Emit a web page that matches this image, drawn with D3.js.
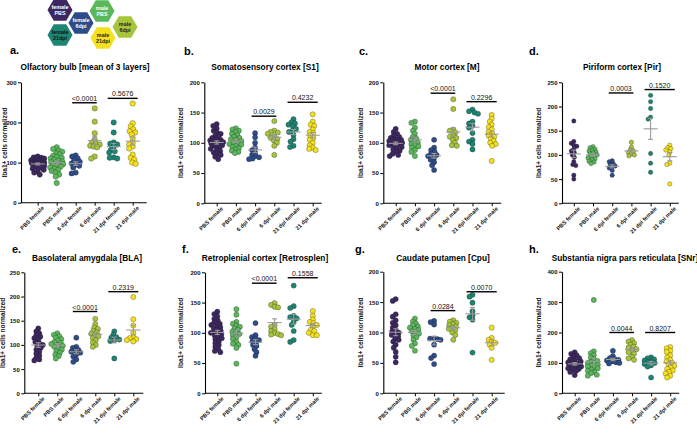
<!DOCTYPE html>
<html><head><meta charset="utf-8">
<script src="https://cdn.jsdelivr.net/npm/d3@7"></script>
<style>body{margin:0;background:#fff} svg{display:block;font-family:"Liberation Sans",Arial,sans-serif}</style>
</head><body><svg id="c" width="697" height="433"></svg>
<script>
// ---------------- DATA ----------------
const categories = ["PBS female","PBS male","6 dpi female","6 dpi male","21 dpi female","21 dpi male"];
const groupColors = ["#3d2761","#5ab85b","#2e4c8a","#a6c53c","#1c8673","#f4e01c"];
const panelLetters = ["a.","b.","c.","d.","e.","f.","g.","h."];
const panelTitles = ["Olfactory bulb [mean of 3 layers]","Somatosensory cortex [S1]","Motor cortex [M]","Piriform cortex [Pir]",
  "Basolateral amygdala [BLA]","Retroplenial cortex [Retrosplen]","Caudate putamen [Cpu]","Substantia nigra pars reticulata [SNr]"];
const yMax = [300,200,200,250,250,200,200,400];
const yStep = [100,50,50,50,50,50,50,100];
const pLabels = [["<0.0001","0.5676"],["0.0029","0.4232"],["<0.0001","0.2296"],["0.0003","0.1520"],
  ["<0.0001","0.2319"],["<0.0001","0.1558"],["0.0284","0.0070"],["0.0044","0.8207"]];
const pBarValue = [[249,260],[144,167],[182,168],[228,235],[169,210],[182,191],[136,167],[200,200]];
const yLabel = "Iba1+ cells normalized";

const olfactoryBulb = [
  [115,113,112,110,108,106,105,104,102,100,100,99,98,97,96,95,94,92,90,88,85,82,78,75,70],
  [138,134,130,127,123,120,117,114,112,110,107,105,103,101,100,98,96,94,92,90,88,85,82,79,75,70,65,49],
  [118,115,110,105,102,98,95,92,88,75,73],
  [235,202,173,157,150,147,145,142,140,138,115,110],
  [200,175,150,147,145,140,133,128,125,113,112,110],
  [247,198,190,183,178,175,170,160,150,145,140,135,120,112,108,100,97]
];
const somatosensory = [
  [131,128,124,120,117,115,112,110,108,106,105,104,103,102,101,100,99,98,97,96,95,94,92,90,88,86,84,82,80,77,73],
  [124,122,120,118,115,113,110,108,106,105,103,101,100,98,97,95,93,91,89,87,85,83],
  [116,109,100,92,88,84,80,78,76,74,73],
  [136,120,118,117,115,110,108,106,104,100,95,80],
  [139,134,132,130,127,123,120,118,113,106,102,95,93],
  [147,135,130,128,122,118,116,112,108,105,100,96,92,90,88]
];
const motorCortex = [
  [123,118,115,112,110,108,106,105,104,103,102,101,100,99,98,97,96,95,93,91,89,87,85,82,80,78],
  [135,133,125,120,115,110,107,105,102,100,98,96,94,92,88,85,78],
  [105,92,88,85,82,80,78,75,72,68,63,55],
  [172,156,122,120,117,112,110,108,105,100,96,95],
  [155,152,150,148,135,132,128,125,116,105,102,98,89],
  [146,140,135,130,126,122,118,115,112,110,107,103,100,98,95,70]
];
const piriform = [
  [170,128,124,120,118,112,108,105,100,95,86,80,78,58,50],
  [117,115,112,110,108,106,104,102,100,98,96,94,92,90,87,85,82],
  [88,86,82,80,77,75,73,68,58],
  [126,116,110,108,105,102,100,98],
  [223,210,196,178,174,103,83,64],
  [120,115,113,110,106,100,83,80,40]
];
const amygdala = [
  [134,128,124,120,117,114,110,106,103,100,97,94,90,86,82,78,74,70,68],
  [124,121,118,115,112,109,106,104,102,100,98,96,93,90,87,84,80,77,72],
  [115,96,94,90,88,86,84,80,76,70,65],
  [154,143,136,133,129,126,123,120,118,114,110,105,100,96],
  [128,121,116,115,111,110,108,72],
  [199,153,140,125,116,114,112,110,107]
];
const retrosplenial = [
  [135,131,127,123,120,117,115,113,111,109,107,105,103,101,100,99,97,95,93,91,89,86,83,80,77,73,70,68],
  [139,130,118,115,112,110,107,105,102,100,98,96,93,90,85,82,80,75,49],
  [116,96,93,90,88,86,84,80,78,73,68,62],
  [149,146,143,142,113,110,106,103,100,98,97,96],
  [178,144,141,128,126,124,118,113,103,88,85],
  [136,128,122,118,116,113,110,105,103,100,96,96]
];
const caudate = [
  [155,152,130,126,120,116,112,108,104,102,100,98,96,94,90,88,85,80,75,68,60,51],
  [123,118,115,112,110,108,106,104,102,100,98,95,92,88,82,78,70],
  [119,117,113,90,90,89,88,80,62,58,48],
  [120,118,116,114,112,110,108,106,104,100,96,88],
  [162,159,149,135,128,125,121,67],
  [108,91,88,85,83,80,75,55]
];
const substantiaNigra = [
  [135,130,125,120,116,112,108,105,102,100,98,96,94,92,90,88,86,84,82,80,77,74,70,60],
  [307,138,132,125,118,112,107,103,100,97,94,91,88,85,82,78,74,70,66,61,58],
  [140,122,116,112,110,108,105,102,100,98],
  [175,170,165,160,153,150,145,140,135,130,120,115,110],
  [118,115,112,108,105,102,100,96,92,88,52],
  [152,148,140,136,125,118,110,105,100,95,90,85,80,75,70,65,58,52]
];
const panelData = [olfactoryBulb,somatosensory,motorCortex,piriform,amygdala,retrosplenial,caudate,substantiaNigra];

const legendLabels = [["female","PBS"],["male","PBS"],["female","6dpi"],["male","6dpi"],["female","21dpi"],["male","21dpi"]];

// ---------------- LAYOUT ----------------
const layout = [
  {ax:21,   top:82.3,  bot:202.7, off:16.7, sp:19,   end:14, tx:85,  ty:70,  lx:10,  ly:54,  ylx:4.5, r:2.7},
  {ax:204.3,top:82.3,  bot:203.3, off:12.4, sp:19.2, end:9,  tx:265, ty:70,  lx:184, ly:55,  ylx:181, r:2.6},
  {ax:383.3,top:82.3,  bot:203.3, off:12.4, sp:19.2, end:9.5,tx:447, ty:70,  lx:359, ly:55,  ylx:361, r:2.6},
  {ax:562,  top:82.3,  bot:203.3, off:11.8, sp:19.2, end:9,  tx:622, ty:70,  lx:529, ly:55,  ylx:539, r:2.2},
  {ax:24.3, top:272.3, bot:393.3, off:14,   sp:19,   end:10, tx:87,  ty:261, lx:12,  ly:253, ylx:3,   r:2.6},
  {ax:205,  top:272.3, bot:393.3, off:12.3, sp:19.1, end:9,  tx:265, ty:261, lx:182, ly:253, ylx:181, r:2.6},
  {ax:383.3,top:271.7, bot:393.3, off:12.4, sp:19.2, end:13, tx:443, ty:261, lx:355, ly:253, ylx:361, r:2.6},
  {ax:562,  top:271.7, bot:393.3, off:12.7, sp:19.1, end:9,  tx:625, ty:261, lx:529, ly:253, ylx:539, r:2.6}
];
const legendPos = [[60,10],[102,11],[81,23],[125,27],[60,35],[103,38]];
const legendText = ["#fff","#fff","#fff","#222","#111","#222"];

const svg = d3.select("#c");

// legend hexagons
const hexR = 12.5;
const hexPts = d3.range(6).map(i=>{const a=Math.PI/3*i;return [hexR*Math.cos(a),hexR*Math.sin(a)];});
legendLabels.forEach((lab,i)=>{
  const g = svg.append("g").attr("transform",`translate(${legendPos[i][0]},${legendPos[i][1]})`);
  g.append("polygon").attr("points",hexPts.map(p=>p.join(",")).join(" ")).attr("fill",groupColors[i]);
  g.append("text").attr("text-anchor","middle").attr("font-size",5.4).attr("font-weight","bold").attr("fill",legendText[i])
    .selectAll("tspan").data(lab).join("tspan").attr("x",0).attr("y",(d,j)=>j===0?-0.8:5.4).text(d=>d);
});

function swarm(vals, y, cx, r, maxW){
  const pts = vals.map(v=>({v, py:y(v)})).sort((a,b)=>a.py-b.py);
  const placed=[]; const d=1.35*r;
  const offs = d3.range(-maxW, maxW+0.01, 0.5).sort((a,b)=>Math.abs(a)-Math.abs(b));
  pts.forEach(p=>{
    const near = placed.filter(q=>Math.abs(q.py-p.py)<d);
    let best=null, bestScore=-1;
    for(const c of offs){
      const md = near.length? d3.min(near,q=>Math.hypot(q.dx-c,q.py-p.py)) : 99;
      if(md>=d){best=c;break;}
      if(md>bestScore+0.05){bestScore=md;best=c;}
    }
    p.dx=best;
    placed.push(p);
  });
  return pts.map(p=>({v:p.v,x:cx+p.dx,y:p.py}));
}

panelData.forEach((groups,pi)=>{
  const L = layout[pi];
  const y = d3.scaleLinear().domain([0,yMax[pi]]).range([L.bot,L.top]);
  const x = d3.scalePoint().domain(categories).range([L.ax+L.off, L.ax+L.off+5*L.sp]);
  const g = svg.append("g");

  g.append("text").attr("x",L.lx).attr("y",L.ly).attr("font-size",11).attr("font-weight","bold").text(panelLetters[pi]);
  g.append("text").attr("x",L.tx).attr("y",L.ty).attr("text-anchor","middle").attr("font-size",8.3).attr("font-weight","bold").text(panelTitles[pi]);
  g.append("text").attr("transform",`translate(${L.ylx+2},${(L.top+L.bot)/2}) rotate(-90)`).attr("text-anchor","middle")
    .attr("font-size",6.6).attr("font-weight","bold").attr("fill","#222").text(yLabel);

  const ya = g.append("g").attr("transform",`translate(${L.ax},0)`)
    .call(d3.axisLeft(y).tickValues(d3.range(0,yMax[pi]+1,yStep[pi])).tickSize(3).tickSizeOuter(0).tickPadding(1.5));
  ya.select(".domain").attr("stroke","#000").attr("stroke-width",1.1);
  ya.selectAll(".tick line").attr("stroke","#000").attr("stroke-width",1);
  ya.selectAll("text").attr("font-size",6).attr("font-weight","bold").attr("font-family","Liberation Sans, Arial").attr("fill","#111");

  const xa = g.append("g").attr("transform",`translate(0,${L.bot})`)
    .call(d3.axisBottom(x).tickSize(3).tickSizeOuter(0));
  xa.select(".domain").remove();
  xa.selectAll(".tick line").attr("stroke","#000").attr("stroke-width",1);
  xa.selectAll("text").attr("font-size",5.6).attr("font-weight","bold").attr("font-family","Liberation Sans, Arial").attr("fill","#111")
    .attr("text-anchor","end").attr("transform","translate(2,0) rotate(-45)").attr("dy","0.35em").attr("dx","-0.2em").attr("y",5);
  g.append("line").attr("x1",L.ax).attr("x2",L.ax+L.off+5*L.sp+L.end).attr("y1",L.bot).attr("y2",L.bot)
    .attr("stroke","#000").attr("stroke-width",1.1);

  groups.forEach((vals,gi)=>{
    const pts = swarm(vals,y,x(categories[gi]),L.r,6.5);
    g.append("g").selectAll("circle").data(pts).join("circle")
      .attr("cx",d=>d.x).attr("cy",d=>d.y).attr("r",L.r)
      .attr("fill",groupColors[gi]).attr("stroke","rgba(30,30,30,0.6)").attr("stroke-width",0.5);
  });
  groups.forEach((vals,gi)=>{
    const m = d3.mean(vals), se = d3.deviation(vals)/Math.sqrt(vals.length);
    const cx = x(categories[gi]);
    const eg = g.append("g").attr("stroke","#9a9a9a").attr("stroke-width",1.1);
    eg.append("line").attr("x1",cx-7).attr("x2",cx+7).attr("y1",y(m)).attr("y2",y(m));
    eg.append("line").attr("x1",cx).attr("x2",cx).attr("y1",y(m-se)).attr("y2",y(m+se));
    eg.append("line").attr("x1",cx-2.5).attr("x2",cx+2.5).attr("y1",y(m-se)).attr("y2",y(m-se));
    eg.append("line").attr("x1",cx-2.5).attr("x2",cx+2.5).attr("y1",y(m+se)).attr("y2",y(m+se));
  });

  const pairs = [[2,3,-3.5,2],[4,5,-6,5]];
  pairs.forEach((p,k)=>{
    const x1 = x(categories[p[0]])+p[2], x2 = x(categories[p[1]])+p[3];
    const yy = y(pBarValue[pi][k]);
    g.append("line").attr("x1",x1).attr("x2",x2).attr("y1",yy).attr("y2",yy).attr("stroke","#000").attr("stroke-width",1.4);
    g.append("text").attr("x",(x1+x2)/2).attr("y",yy-2).attr("text-anchor","middle").attr("font-size",7).attr("fill","#111").text(pLabels[pi][k]);
  });
});
</script></body></html>
